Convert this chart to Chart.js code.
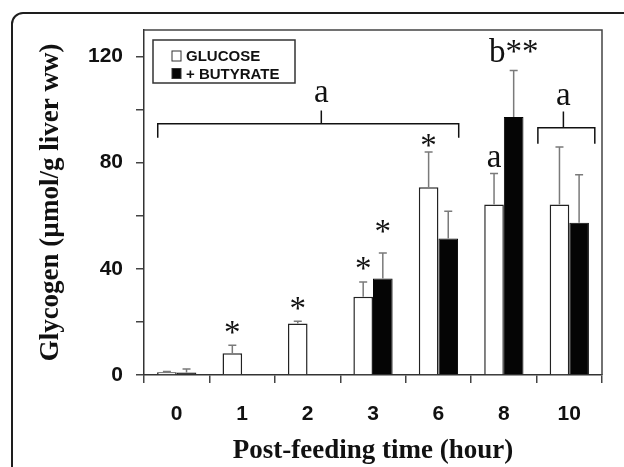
<!DOCTYPE html>
<html>
<head>
<meta charset="utf-8">
<script src="https://cdn.jsdelivr.net/npm/chart.js@4.4.0/dist/chart.umd.min.js"></script>
<style>
  html, body { margin: 0; padding: 0; background: #fff; }
</style>
</head>
<body>
<canvas id="myChart" width="624" height="467"></canvas>
<script>
const hours = ["0", "1", "2", "3", "6", "8", "10"];
const glucose = [1.0, 8.2, 19.4, 29.5, 70.7, 64.2, 64.2];
const glucoseErr = [0.3, 3.0, 0.9, 5.5, 13.3, 11.7, 21.7];
const butyrate = [0.9, null, null, 36.4, 51.4, 97.2, 57.4];
const butyrateErr = [1.4, null, null, 9.6, 10.3, 17.5, 18.1];
const yLabels = [0, 40, 80, 120];

// significance marks: [category, dataset, baseline value, text]
const marks = [
  [1, 0, 11.9, "*"],
  [2, 0, 21.0, "*"],
  [3, 0, 36.3, "*"],
  [3, 1, 50.3, "*"],
  [4, 0, 82.7, "*"],
  [5, 0, 78.4, "a"],
  [5, 1, 117.9, "b**"],
];

// brackets: from / to / stem (category index), bar level, feet, stem top, label baseline
const brackets = [
  { from: -0.29, to: 4.31, stem: 2.21, level: 94.7, foot: 89.4, top: 99.7, labelY: 102.8, text: "a" },
  { from: 5.52, to: 6.39, stem: 5.91, level: 93.2, foot: 87.1, top: 99.3, labelY: 101.6, text: "a" },
];

const ctx = document.getElementById("myChart");
const sans = "'Liberation Sans', Arial, sans-serif";
const serif = "'Liberation Serif', 'Times New Roman', serif";

const extras = {
  id: "extras",
  beforeDraw(chart) {
    const c = chart.ctx;
    c.save();
    c.strokeStyle = "#1e1e1e";
    c.lineWidth = 2;
    c.beginPath();
    c.roundRect(12, 13, chart.width + 20, chart.height + 20, 11);
    c.stroke();
    c.restore();
  },
  afterDatasetsDraw(chart) {
    const c = chart.ctx;
    const x = chart.scales.x;
    const y = chart.scales.y;
    const a = chart.chartArea;

    // error bars (upper half only)
    c.save();
    c.strokeStyle = "#7a7a7a";
    c.lineWidth = 1.5;
    [glucoseErr, butyrateErr].forEach((errs, i) => {
      const vals = chart.data.datasets[i].data;
      chart.getDatasetMeta(i).data.forEach((bar, j) => {
        if (vals[j] == null || errs[j] == null) return;
        const top = y.getPixelForValue(vals[j] + errs[j]);
        c.beginPath();
        c.moveTo(bar.x, bar.y);
        c.lineTo(bar.x, top);
        c.moveTo(bar.x - 4, top);
        c.lineTo(bar.x + 4, top);
        c.stroke();
      });
    });
    c.restore();

    // plot frame top / right
    c.save();
    c.strokeStyle = "#444";
    c.lineWidth = 1.5;
    c.beginPath();
    c.moveTo(a.left, a.top);
    c.lineTo(a.right, a.top);
    c.lineTo(a.right, a.bottom);
    c.stroke();
    c.restore();

    // significance marks
    c.save();
    c.fillStyle = "#111";
    c.font = "33px " + serif;
    c.textAlign = "center";
    c.textBaseline = "alphabetic";
    marks.forEach(([cat, ds, v, t]) => {
      const bar = chart.getDatasetMeta(ds).data[cat];
      c.fillText(t, bar.x, y.getPixelForValue(v));
    });

    // brackets
    c.strokeStyle = "#111";
    c.lineWidth = 1.5;
    brackets.forEach((b) => {
      const x0 = x.getPixelForValue(b.from);
      const x1 = x.getPixelForValue(b.to);
      const xs = x.getPixelForValue(b.stem);
      const yl = y.getPixelForValue(b.level);
      c.beginPath();
      c.moveTo(x0, y.getPixelForValue(b.foot));
      c.lineTo(x0, yl);
      c.lineTo(x1, yl);
      c.lineTo(x1, y.getPixelForValue(b.foot));
      c.moveTo(xs, yl);
      c.lineTo(xs, y.getPixelForValue(b.top));
      c.stroke();
      c.fillText(b.text, xs, y.getPixelForValue(b.labelY));
    });
    c.restore();

    // legend
    const lx = a.left + 9;
    const ly = a.top + 10;
    c.save();
    c.strokeStyle = "#333";
    c.lineWidth = 1.5;
    c.strokeRect(lx, ly, 142, 43);
    c.font = "bold 15px " + sans;
    c.textBaseline = "middle";
    chart.data.datasets.forEach((ds, i) => {
      const cy = ly + 16 + i * 17.5;
      c.fillStyle = ds.backgroundColor;
      c.fillRect(lx + 19, cy - 5, 9, 10);
      c.lineWidth = 1;
      c.strokeStyle = "#333";
      c.strokeRect(lx + 19, cy - 5, 9, 10);
      c.fillStyle = "#111";
      c.fillText(ds.label, lx + 33, cy + 1);
    });
    c.restore();
  },
};

new Chart(ctx, {
  type: "bar",
  data: {
    labels: hours,
    datasets: [
      {
        label: "GLUCOSE",
        data: glucose,
        backgroundColor: "#ffffff",
        borderColor: "#222",
        borderWidth: 1.5,
      },
      {
        label: "+ BUTYRATE",
        data: butyrate,
        backgroundColor: "#050505",
        borderColor: "#050505",
        borderWidth: 1,
      },
    ],
  },
  options: {
    responsive: false,
    animation: false,
    layout: { padding: { top: 30, right: 22, left: 0, bottom: 0 } },
    datasets: { bar: { categoryPercentage: 0.6, barPercentage: 1.0 } },
    plugins: {
      legend: { display: false },
      tooltip: { enabled: false },
    },
    scales: {
      x: {
        afterFit: (s) => { s.height = 92; },
        grid: { drawOnChartArea: false, tickLength: 8, color: "#444", lineWidth: 1.5 },
        border: { color: "#333", width: 1.5 },
        ticks: {
          padding: 19,
          color: "#111",
          font: { family: sans, size: 21, weight: "bold" },
        },
        title: {
          display: true,
          text: "Post-feeding time (hour)",
          color: "#111",
          padding: { top: 0, bottom: 0 },
          font: { family: serif, size: 27, weight: "bold" },
        },
      },
      y: {
        min: 0,
        max: 130,
        afterFit: (s) => { s.width = 144; },
        grid: {
          drawOnChartArea: false,
          tickLength: 8,
          lineWidth: 1.5,
          color: (c) => (c.tick && c.tick.value === 130 ? "rgba(0,0,0,0)" : "#444"),
        },
        border: { color: "#333", width: 1.5 },
        ticks: {
          stepSize: 10,
          padding: 13,
          color: "#111",
          font: { family: sans, size: 21, weight: "bold" },
          callback: (v) => (yLabels.includes(v) ? v : ""),
        },
        title: {
          display: true,
          text: "Glycogen (µmol/g liver ww)",
          color: "#111",
          padding: { top: 35, bottom: 0 },
          font: { family: serif, size: 27, weight: "bold" },
        },
      },
    },
  },
  plugins: [extras],
});
</script>
</body>
</html>
